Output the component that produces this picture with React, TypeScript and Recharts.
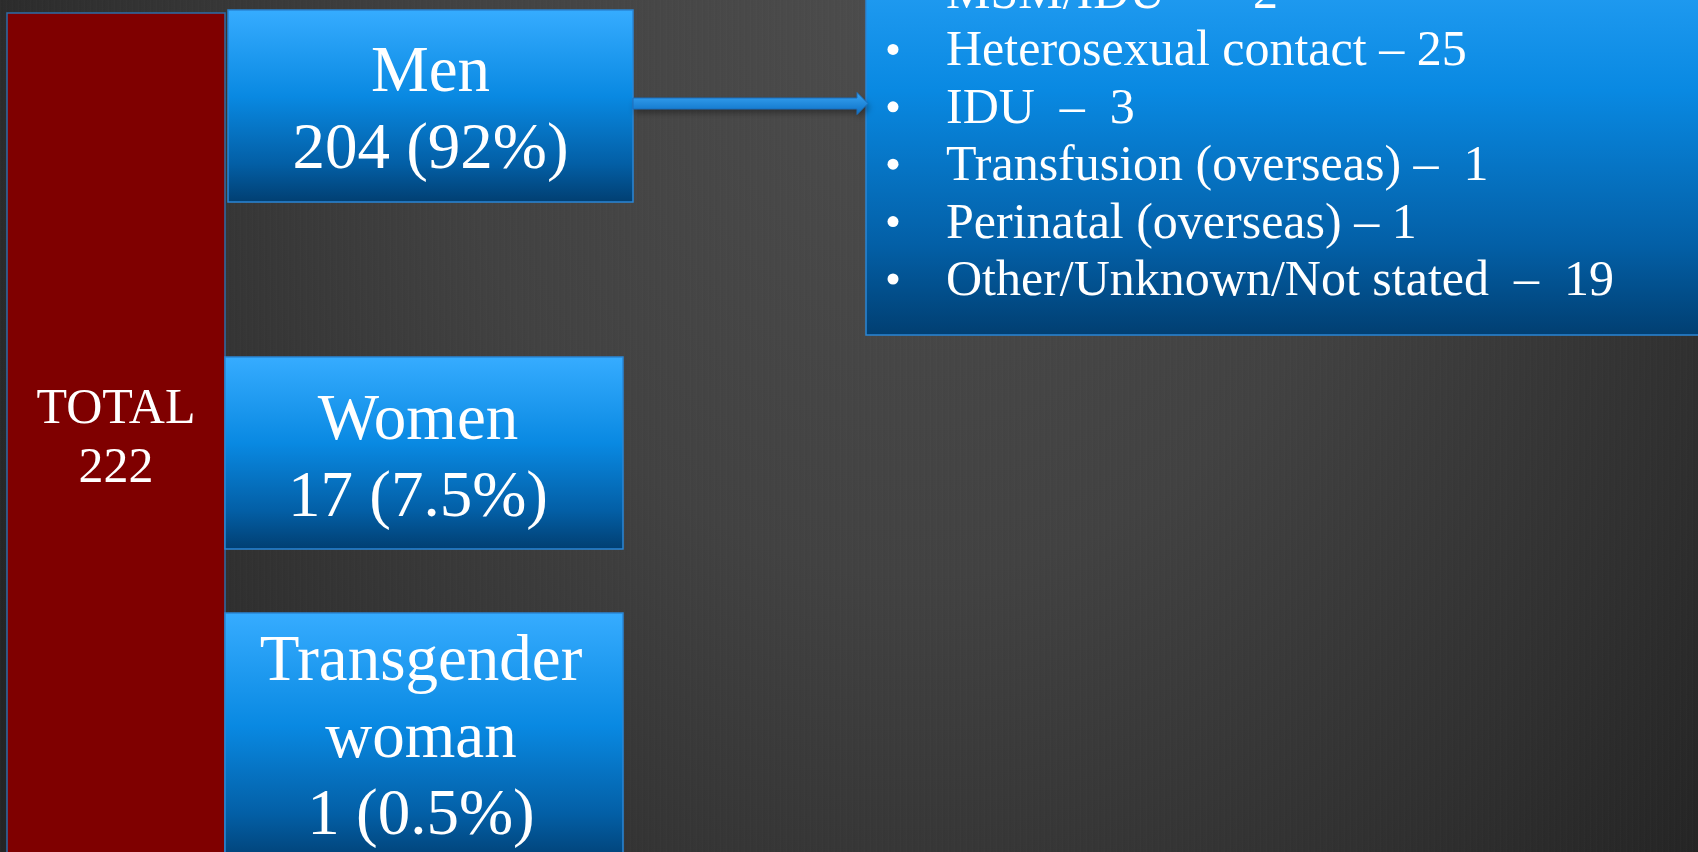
import React from 'react';
import { ComposedChart, XAxis, YAxis, ReferenceArea } from 'recharts';

// ---------------- data ----------------
const totalLabel = 'TOTAL';
const totalCount = 222;

const groupNameLines = [['Men'], ['Women'], ['Transgender', 'woman']];
const groupCounts = [204, 17, 1];
const groupPercents = ['92%', '7.5%', '0.5%'];

const menRouteNames = [
  'MSM/IDU',
  'Heterosexual contact',
  'IDU',
  'Transfusion (overseas)',
  'Perinatal (overseas)',
  'Other/Unknown/Not stated',
];
const menRouteCounts = [2, 25, 3, 1, 1, 19];
const menRouteSeparators = ['   –  ', ' – ', '  –  ', ' –  ', ' – ', '  –  '];

// ---------------- layout / style ----------------
const W = 1698;
const H = 852;
const FONT = '"Liberation Serif", "DejaVu Serif", "Times New Roman", serif';

const totalBox = { x1: 7, x2: 225, y1: 13, y2: 870, textY: 423, step: 59, size: 50 };
const groupBoxes = [
  { x1: 228, x2: 633, y1: 10, y2: 202, textY: 91, dx: 0 },
  { x1: 225, x2: 623, y1: 357, y2: 549, textY: 439, dx: -6 },
  { x1: 225, x2: 623, y1: 613, y2: 864, textY: 680, dx: -3 },
];
const groupStep = 77;
const groupFont = 65;

const routesBox = { x1: 866, x2: 1720, y1: -110, y2: 335 };
const routesText = { x: 946, bulletX: 893, firstY: 8, step: 57.4, size: 50 };

const arrow = { x1: 633, x2: 868, y1: 98, y2: 109, head: 11, headHalf: 11 };

const BORDER = '#2a86d6';

const BlueBox = (lines: string[], size: number, dx: number, baseY: number, step: number) => (props: any) => {
  const { x, y, width, height } = props;
  const cx = x + width / 2 + dx;
  return (
    <g>
      <rect x={x} y={y} width={width} height={height} fill="url(#blueGrad)" stroke={BORDER} strokeWidth={1.5} />
      {lines.map((t, i) => (
        <text
          key={i}
          x={cx}
          y={baseY + i * step}
          textAnchor="middle"
          fill="#ffffff"
          fontFamily={FONT}
          fontSize={size}
        >
          {t}
        </text>
      ))}
    </g>
  );
};

const TotalShape = (props: any) => {
  const { x, y, width, height } = props;
  const cx = x + width / 2;
  return (
    <g>
      <rect x={x} y={y} width={width} height={height} fill="#7f0000" stroke="#2e6ca8" strokeWidth={1.5} />
      <text x={cx} y={totalBox.textY} textAnchor="middle" fill="#fff" fontFamily={FONT} fontSize={totalBox.size}>
        {totalLabel}
      </text>
      <text x={cx} y={totalBox.textY + totalBox.step} textAnchor="middle" fill="#fff" fontFamily={FONT} fontSize={totalBox.size}>
        {String(totalCount)}
      </text>
    </g>
  );
};

const RoutesShape = (props: any) => {
  const { x, y, width, height } = props;
  return (
    <g>
      <rect x={x} y={y} width={width} height={height} fill="url(#blueGrad)" stroke={BORDER} strokeWidth={1.5} />
      {menRouteNames.map((name, i) => {
        const by = routesText.firstY + i * routesText.step;
        return (
          <g key={i}>
            <circle cx={routesText.bulletX} cy={by - 16} r={5.5} fill="#ffffff" />
            <text
              x={routesText.x}
              y={by}
              fill="#ffffff"
              fontFamily={FONT}
              fontSize={routesText.size}
              style={{ whiteSpace: 'pre' }}
            >
              {`${name}${menRouteSeparators[i]}${menRouteCounts[i]}`}
            </text>
          </g>
        );
      })}
    </g>
  );
};

const ArrowShape = (props: any) => {
  const { x, y, width, height } = props;
  const tipX = x + width;
  const baseX = tipX - arrow.head;
  const cy = y + height / 2;
  const d = `M${x},${y} L${baseX},${y} L${baseX},${cy - arrow.headHalf} L${tipX},${cy} L${baseX},${cy + arrow.headHalf} L${baseX},${y + height} L${x},${y + height} Z`;
  return (
    <g>
      <path d={d} fill="rgba(0,0,0,0.35)" transform="translate(2,4)" filter="url(#arrowShadow)" />
      <path d={d} fill="url(#arrowGrad)" stroke="#1a6fbd" strokeWidth={1} />
    </g>
  );
};

export default function App() {
  return (
    <div
      style={{
        width: W,
        height: H,
        overflow: 'hidden',
        position: 'relative',
        background:
          'repeating-linear-gradient(90deg, rgba(255,255,255,0.012) 0px, rgba(255,255,255,0.012) 1px, rgba(0,0,0,0.018) 1px, rgba(0,0,0,0.018) 3px, rgba(255,255,255,0) 3px, rgba(255,255,255,0) 6px), radial-gradient(ellipse 62% 150% at 54% 0%, #4d4d4d 0%, #424242 45%, #303030 80%, #252525 100%)',
      }}
    >
      <style>{`body{margin:0;}`}</style>
      <ComposedChart width={W} height={H} margin={{ top: 0, right: 0, bottom: 0, left: 0 }} data={[]}>
        <defs>
          <linearGradient id="blueGrad" x1="0" y1="0" x2="0" y2="1">
            <stop offset="0%" stopColor="#36acff" />
            <stop offset="45%" stopColor="#0989e2" />
            <stop offset="80%" stopColor="#035fa6" />
            <stop offset="100%" stopColor="#013f72" />
          </linearGradient>
          <linearGradient id="arrowGrad" x1="0" y1="0" x2="0" y2="1">
            <stop offset="0%" stopColor="#3aa6f5" />
            <stop offset="100%" stopColor="#0b6fc4" />
          </linearGradient>
          <filter id="arrowShadow" x="-10%" y="-100%" width="120%" height="300%">
            <feGaussianBlur stdDeviation="3" />
          </filter>
        </defs>
        <XAxis type="number" dataKey="x" domain={[0, W]} hide allowDataOverflow />
        <YAxis type="number" dataKey="y" domain={[0, H]} reversed hide allowDataOverflow />

        <ReferenceArea
          x1={totalBox.x1}
          x2={totalBox.x2}
          y1={totalBox.y1}
          y2={totalBox.y2}
          ifOverflow="visible"
          shape={TotalShape}
        />
        {groupBoxes.map((b, i) => (
          <ReferenceArea
            key={i}
            x1={b.x1}
            x2={b.x2}
            y1={b.y1}
            y2={b.y2}
            ifOverflow="visible"
            shape={BlueBox(
              [...groupNameLines[i], `${groupCounts[i]} (${groupPercents[i]})`],
              groupFont,
              b.dx,
              b.textY,
              groupStep
            )}
          />
        ))}
        <ReferenceArea
          x1={routesBox.x1}
          x2={routesBox.x2}
          y1={routesBox.y1}
          y2={routesBox.y2}
          ifOverflow="visible"
          shape={RoutesShape}
        />
        <ReferenceArea
          x1={arrow.x1}
          x2={arrow.x2}
          y1={arrow.y1}
          y2={arrow.y2}
          ifOverflow="visible"
          shape={ArrowShape}
        />
      </ComposedChart>
    </div>
  );
}
